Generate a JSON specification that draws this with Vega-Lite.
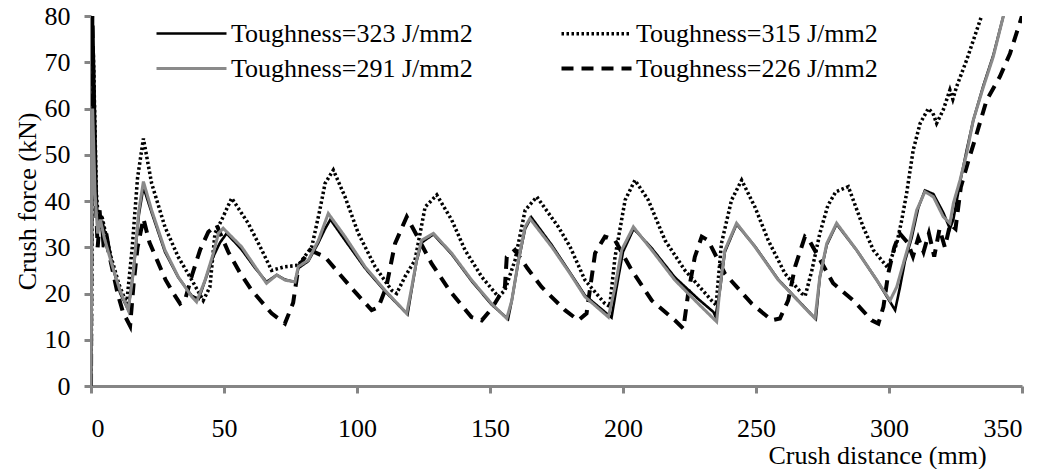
{
  "$schema": "https://vega.github.io/schema/vega-lite/v6.json",
  "width": 931,
  "height": 370,
  "autosize": {"type": "none"},
  "padding": {"left": 91, "top": 16, "right": 25, "bottom": 83},
  "background": "#ffffff",
  "config": {
    "view": {"stroke": null},
    "axis": {"domainColor": "#858585", "domainWidth": 3, "tickColor": "#858585", "tickWidth": 3, "tickSize": 7, "labelFont": "Liberation Serif", "labelFontSize": 26, "labelColor": "#000000", "titleFont": "Liberation Serif", "titleFontSize": 26, "titleFontWeight": "normal", "titleColor": "#000000", "grid": false},
    "legend": {"orient": "none", "legendX": 81, "legendY": -2, "columns": 2, "symbolType": "M-2,0H2", "symbolSize": 1225, "symbolStrokeWidth": 3.5, "labelFont": "Liberation Serif", "labelFontSize": 26, "labelLimit": 500, "labelColor": "#000000", "labelOffset": 20, "columnPadding": 80, "rowPadding": 2, "padding": 0, "title": null}
  },
  "data": {"values": [
    {"s":"Toughness=315 J/mm2","x":0,"y":0},{"s":"Toughness=315 J/mm2","x":0.9,"y":72},{"s":"Toughness=315 J/mm2","x":2,"y":42},{"s":"Toughness=315 J/mm2","x":3,"y":34},{"s":"Toughness=315 J/mm2","x":4,"y":37},{"s":"Toughness=315 J/mm2","x":5.5,"y":33},{"s":"Toughness=315 J/mm2","x":7.5,"y":28},{"s":"Toughness=315 J/mm2","x":10.5,"y":22},{"s":"Toughness=315 J/mm2","x":13.4,"y":17.8},{"s":"Toughness=315 J/mm2","x":15.5,"y":30},{"s":"Toughness=315 J/mm2","x":17.5,"y":45},{"s":"Toughness=315 J/mm2","x":19.7,"y":53.5},{"s":"Toughness=315 J/mm2","x":22.8,"y":43.8},{"s":"Toughness=315 J/mm2","x":27.8,"y":34.4},{"s":"Toughness=315 J/mm2","x":32.8,"y":27.9},{"s":"Toughness=315 J/mm2","x":37.9,"y":22.9},{"s":"Toughness=315 J/mm2","x":42.2,"y":18.5},{"s":"Toughness=315 J/mm2","x":44.7,"y":21.4},{"s":"Toughness=315 J/mm2","x":46.6,"y":33},{"s":"Toughness=315 J/mm2","x":49.1,"y":35.9},{"s":"Toughness=315 J/mm2","x":52.9,"y":40.6},{"s":"Toughness=315 J/mm2","x":59.1,"y":35.2},{"s":"Toughness=315 J/mm2","x":64.2,"y":29.4},{"s":"Toughness=315 J/mm2","x":67.9,"y":25},{"s":"Toughness=315 J/mm2","x":72.9,"y":25.8},{"s":"Toughness=315 J/mm2","x":77.9,"y":26.1},{"s":"Toughness=315 J/mm2","x":83,"y":30.1},{"s":"Toughness=315 J/mm2","x":86,"y":38},{"s":"Toughness=315 J/mm2","x":88,"y":43.8},{"s":"Toughness=315 J/mm2","x":91.1,"y":46.7},{"s":"Toughness=315 J/mm2","x":95.5,"y":40.9},{"s":"Toughness=315 J/mm2","x":100.5,"y":33},{"s":"Toughness=315 J/mm2","x":106.8,"y":25.8},{"s":"Toughness=315 J/mm2","x":113,"y":20.7},{"s":"Toughness=315 J/mm2","x":114.9,"y":20},{"s":"Toughness=315 J/mm2","x":118,"y":23.6},{"s":"Toughness=315 J/mm2","x":121.8,"y":27.2},{"s":"Toughness=315 J/mm2","x":125.6,"y":38.7},{"s":"Toughness=315 J/mm2","x":130,"y":41.3},{"s":"Toughness=315 J/mm2","x":135.6,"y":35.9},{"s":"Toughness=315 J/mm2","x":140.6,"y":29.4},{"s":"Toughness=315 J/mm2","x":146.9,"y":23.6},{"s":"Toughness=315 J/mm2","x":153.1,"y":19.3},{"s":"Toughness=315 J/mm2","x":155.6,"y":20.7},{"s":"Toughness=315 J/mm2","x":159.4,"y":27.2},{"s":"Toughness=315 J/mm2","x":163.2,"y":38},{"s":"Toughness=315 J/mm2","x":167.6,"y":40.9},{"s":"Toughness=315 J/mm2","x":175.7,"y":34.4},{"s":"Toughness=315 J/mm2","x":180.1,"y":30.1},{"s":"Toughness=315 J/mm2","x":185.7,"y":22.9},{"s":"Toughness=315 J/mm2","x":193.2,"y":17.8},{"s":"Toughness=315 J/mm2","x":195,"y":17.2},{"s":"Toughness=315 J/mm2","x":197,"y":27.9},{"s":"Toughness=315 J/mm2","x":200.8,"y":40.2},{"s":"Toughness=315 J/mm2","x":204.5,"y":44.5},{"s":"Toughness=315 J/mm2","x":209.5,"y":40.2},{"s":"Toughness=315 J/mm2","x":215.8,"y":31.5},{"s":"Toughness=315 J/mm2","x":223.3,"y":25},{"s":"Toughness=315 J/mm2","x":233.3,"y":18.5},{"s":"Toughness=315 J/mm2","x":235,"y":17.5},{"s":"Toughness=315 J/mm2","x":237,"y":30.8},{"s":"Toughness=315 J/mm2","x":240.8,"y":40.2},{"s":"Toughness=315 J/mm2","x":244.6,"y":44.5},{"s":"Toughness=315 J/mm2","x":249.6,"y":38.7},{"s":"Toughness=315 J/mm2","x":254.6,"y":31.5},{"s":"Toughness=315 J/mm2","x":260.9,"y":24.3},{"s":"Toughness=315 J/mm2","x":267.2,"y":20},{"s":"Toughness=315 J/mm2","x":268.5,"y":19.5},{"s":"Toughness=315 J/mm2","x":271,"y":25},{"s":"Toughness=315 J/mm2","x":274,"y":33},{"s":"Toughness=315 J/mm2","x":277,"y":39},{"s":"Toughness=315 J/mm2","x":280,"y":42},{"s":"Toughness=315 J/mm2","x":284.7,"y":43.1},{"s":"Toughness=315 J/mm2","x":290.3,"y":34.4},{"s":"Toughness=315 J/mm2","x":294.1,"y":29.4},{"s":"Toughness=315 J/mm2","x":299.5,"y":25.6},{"s":"Toughness=315 J/mm2","x":302.9,"y":30.8},{"s":"Toughness=315 J/mm2","x":304.8,"y":35.9},{"s":"Toughness=315 J/mm2","x":306.6,"y":41.6},{"s":"Toughness=315 J/mm2","x":309.1,"y":51},{"s":"Toughness=315 J/mm2","x":311.7,"y":56.8},{"s":"Toughness=315 J/mm2","x":314.8,"y":60},{"s":"Toughness=315 J/mm2","x":316.5,"y":59},{"s":"Toughness=315 J/mm2","x":317.9,"y":56.8},{"s":"Toughness=315 J/mm2","x":320.4,"y":59.7},{"s":"Toughness=315 J/mm2","x":322.9,"y":64},{"s":"Toughness=315 J/mm2","x":324,"y":62},{"s":"Toughness=315 J/mm2","x":325.4,"y":64.7},{"s":"Toughness=315 J/mm2","x":329.2,"y":70.5},{"s":"Toughness=315 J/mm2","x":334.8,"y":80},

    {"s":"Toughness=226 J/mm2","x":0,"y":0},{"s":"Toughness=226 J/mm2","x":0.5,"y":80},{"s":"Toughness=226 J/mm2","x":1.5,"y":45},{"s":"Toughness=226 J/mm2","x":2.5,"y":30},{"s":"Toughness=226 J/mm2","x":3.5,"y":37},{"s":"Toughness=226 J/mm2","x":5,"y":33},{"s":"Toughness=226 J/mm2","x":7,"y":28},{"s":"Toughness=226 J/mm2","x":10,"y":20},{"s":"Toughness=226 J/mm2","x":12,"y":16},{"s":"Toughness=226 J/mm2","x":14.7,"y":13},{"s":"Toughness=226 J/mm2","x":16,"y":22},{"s":"Toughness=226 J/mm2","x":17.5,"y":30},{"s":"Toughness=226 J/mm2","x":19.7,"y":36.2},{"s":"Toughness=226 J/mm2","x":22,"y":31},{"s":"Toughness=226 J/mm2","x":25,"y":27},{"s":"Toughness=226 J/mm2","x":28,"y":23},{"s":"Toughness=226 J/mm2","x":31,"y":20},{"s":"Toughness=226 J/mm2","x":33.5,"y":17.8},{"s":"Toughness=226 J/mm2","x":35.3,"y":18.5},{"s":"Toughness=226 J/mm2","x":38,"y":24},{"s":"Toughness=226 J/mm2","x":41,"y":29.4},{"s":"Toughness=226 J/mm2","x":44.1,"y":33.3},{"s":"Toughness=226 J/mm2","x":47.2,"y":34.8},{"s":"Toughness=226 J/mm2","x":51.6,"y":29},{"s":"Toughness=226 J/mm2","x":56,"y":24.5},{"s":"Toughness=226 J/mm2","x":60.4,"y":20.7},{"s":"Toughness=226 J/mm2","x":67.9,"y":15.7},{"s":"Toughness=226 J/mm2","x":72.9,"y":13.5},{"s":"Toughness=226 J/mm2","x":76,"y":18},{"s":"Toughness=226 J/mm2","x":78,"y":25.8},{"s":"Toughness=226 J/mm2","x":82.3,"y":29.4},{"s":"Toughness=226 J/mm2","x":88,"y":27.9},{"s":"Toughness=226 J/mm2","x":93,"y":24.5},{"s":"Toughness=226 J/mm2","x":99,"y":20.5},{"s":"Toughness=226 J/mm2","x":105.5,"y":16.4},{"s":"Toughness=226 J/mm2","x":108,"y":17},{"s":"Toughness=226 J/mm2","x":111,"y":21.4},{"s":"Toughness=226 J/mm2","x":114.3,"y":30.8},{"s":"Toughness=226 J/mm2","x":118.7,"y":36.6},{"s":"Toughness=226 J/mm2","x":123,"y":32},{"s":"Toughness=226 J/mm2","x":128,"y":26.5},{"s":"Toughness=226 J/mm2","x":135,"y":20.5},{"s":"Toughness=226 J/mm2","x":143,"y":14.9},{"s":"Toughness=226 J/mm2","x":146.9,"y":14.2},{"s":"Toughness=226 J/mm2","x":150.6,"y":16.7},{"s":"Toughness=226 J/mm2","x":155.6,"y":21.4},{"s":"Toughness=226 J/mm2","x":156.3,"y":27.9},{"s":"Toughness=226 J/mm2","x":159.4,"y":29.4},{"s":"Toughness=226 J/mm2","x":164,"y":25.5},{"s":"Toughness=226 J/mm2","x":169.4,"y":21.4},{"s":"Toughness=226 J/mm2","x":178.2,"y":16.4},{"s":"Toughness=226 J/mm2","x":183.2,"y":14.2},{"s":"Toughness=226 J/mm2","x":186.3,"y":15.7},{"s":"Toughness=226 J/mm2","x":189.5,"y":28.7},{"s":"Toughness=226 J/mm2","x":193.2,"y":32.3},{"s":"Toughness=226 J/mm2","x":197,"y":31.5},{"s":"Toughness=226 J/mm2","x":203.3,"y":25},{"s":"Toughness=226 J/mm2","x":210.8,"y":18.5},{"s":"Toughness=226 J/mm2","x":219.5,"y":14.2},{"s":"Toughness=226 J/mm2","x":222.7,"y":12.4},{"s":"Toughness=226 J/mm2","x":224.5,"y":20},{"s":"Toughness=226 J/mm2","x":227,"y":27.9},{"s":"Toughness=226 J/mm2","x":229.6,"y":32.3},{"s":"Toughness=226 J/mm2","x":232,"y":31.5},{"s":"Toughness=226 J/mm2","x":238.3,"y":24.3},{"s":"Toughness=226 J/mm2","x":248.4,"y":17.8},{"s":"Toughness=226 J/mm2","x":255.9,"y":14.2},{"s":"Toughness=226 J/mm2","x":259,"y":14.6},{"s":"Toughness=226 J/mm2","x":262.1,"y":18.5},{"s":"Toughness=226 J/mm2","x":264.7,"y":25.8},{"s":"Toughness=226 J/mm2","x":268.4,"y":32.3},{"s":"Toughness=226 J/mm2","x":270,"y":31.5},{"s":"Toughness=226 J/mm2","x":279,"y":22.2},{"s":"Toughness=226 J/mm2","x":286.6,"y":18.5},{"s":"Toughness=226 J/mm2","x":293.5,"y":14.2},{"s":"Toughness=226 J/mm2","x":296,"y":13.5},{"s":"Toughness=226 J/mm2","x":297.9,"y":17.1},{"s":"Toughness=226 J/mm2","x":299.7,"y":24.3},{"s":"Toughness=226 J/mm2","x":302,"y":30},{"s":"Toughness=226 J/mm2","x":304,"y":33},{"s":"Toughness=226 J/mm2","x":307,"y":31},{"s":"Toughness=226 J/mm2","x":309,"y":28},{"s":"Toughness=226 J/mm2","x":311,"y":32},{"s":"Toughness=226 J/mm2","x":313,"y":29},{"s":"Toughness=226 J/mm2","x":315,"y":33},{"s":"Toughness=226 J/mm2","x":317,"y":28},{"s":"Toughness=226 J/mm2","x":319,"y":34},{"s":"Toughness=226 J/mm2","x":321,"y":30},{"s":"Toughness=226 J/mm2","x":323,"y":35},{"s":"Toughness=226 J/mm2","x":325,"y":34},{"s":"Toughness=226 J/mm2","x":327,"y":43},{"s":"Toughness=226 J/mm2","x":330,"y":49},{"s":"Toughness=226 J/mm2","x":333,"y":54.6},{"s":"Toughness=226 J/mm2","x":336.7,"y":61.8},{"s":"Toughness=226 J/mm2","x":341.7,"y":66.9},{"s":"Toughness=226 J/mm2","x":345.5,"y":71.9},{"s":"Toughness=226 J/mm2","x":350,"y":80},

    {"s":"Toughness=323 J/mm2","x":0,"y":0},{"s":"Toughness=323 J/mm2","x":0.8,"y":78},{"s":"Toughness=323 J/mm2","x":2,"y":45},{"s":"Toughness=323 J/mm2","x":2.5,"y":33},{"s":"Toughness=323 J/mm2","x":3.5,"y":38},{"s":"Toughness=323 J/mm2","x":4.5,"y":30},{"s":"Toughness=323 J/mm2","x":6,"y":33},{"s":"Toughness=323 J/mm2","x":8,"y":26},{"s":"Toughness=323 J/mm2","x":11,"y":20},{"s":"Toughness=323 J/mm2","x":14,"y":16.5},{"s":"Toughness=323 J/mm2","x":16,"y":25},{"s":"Toughness=323 J/mm2","x":18,"y":37},{"s":"Toughness=323 J/mm2","x":19.7,"y":43},{"s":"Toughness=323 J/mm2","x":22.8,"y":37.5},{"s":"Toughness=323 J/mm2","x":27.8,"y":29},{"s":"Toughness=323 J/mm2","x":32.8,"y":23.5},{"s":"Toughness=323 J/mm2","x":37.9,"y":19.5},{"s":"Toughness=323 J/mm2","x":40.5,"y":18.8},{"s":"Toughness=323 J/mm2","x":43,"y":23},{"s":"Toughness=323 J/mm2","x":46,"y":28},{"s":"Toughness=323 J/mm2","x":48.5,"y":31},{"s":"Toughness=323 J/mm2","x":51,"y":33},{"s":"Toughness=323 J/mm2","x":56.6,"y":29.5},{"s":"Toughness=323 J/mm2","x":61.7,"y":25.5},{"s":"Toughness=323 J/mm2","x":66,"y":22.5},{"s":"Toughness=323 J/mm2","x":69.8,"y":24},{"s":"Toughness=323 J/mm2","x":72.9,"y":23},{"s":"Toughness=323 J/mm2","x":76.7,"y":22.5},{"s":"Toughness=323 J/mm2","x":78,"y":25.5},{"s":"Toughness=323 J/mm2","x":81.7,"y":27},{"s":"Toughness=323 J/mm2","x":85.5,"y":31},{"s":"Toughness=323 J/mm2","x":88,"y":34},{"s":"Toughness=323 J/mm2","x":90,"y":36},{"s":"Toughness=323 J/mm2","x":95.5,"y":31.5},{"s":"Toughness=323 J/mm2","x":103,"y":25.5},{"s":"Toughness=323 J/mm2","x":110.5,"y":20.5},{"s":"Toughness=323 J/mm2","x":119,"y":15.5},{"s":"Toughness=323 J/mm2","x":120.6,"y":21},{"s":"Toughness=323 J/mm2","x":122.4,"y":27},{"s":"Toughness=323 J/mm2","x":124.3,"y":31},{"s":"Toughness=323 J/mm2","x":128.7,"y":32.8},{"s":"Toughness=323 J/mm2","x":135.6,"y":28.5},{"s":"Toughness=323 J/mm2","x":143.1,"y":22.7},{"s":"Toughness=323 J/mm2","x":150.6,"y":17.6},{"s":"Toughness=323 J/mm2","x":156.8,"y":14.5},{"s":"Toughness=323 J/mm2","x":158.2,"y":18.5},{"s":"Toughness=323 J/mm2","x":160.7,"y":27},{"s":"Toughness=323 J/mm2","x":163.2,"y":34},{"s":"Toughness=323 J/mm2","x":165.5,"y":36.5},{"s":"Toughness=323 J/mm2","x":173.2,"y":30.5},{"s":"Toughness=323 J/mm2","x":180.1,"y":24.5},{"s":"Toughness=323 J/mm2","x":185.7,"y":19.6},{"s":"Toughness=323 J/mm2","x":195.7,"y":14.8},{"s":"Toughness=323 J/mm2","x":197.5,"y":21},{"s":"Toughness=323 J/mm2","x":200,"y":29},{"s":"Toughness=323 J/mm2","x":204,"y":34},{"s":"Toughness=323 J/mm2","x":210.8,"y":29.8},{"s":"Toughness=323 J/mm2","x":219.5,"y":23.5},{"s":"Toughness=323 J/mm2","x":228.3,"y":18.8},{"s":"Toughness=323 J/mm2","x":234,"y":16},{"s":"Toughness=323 J/mm2","x":234.8,"y":15},{"s":"Toughness=323 J/mm2","x":236.5,"y":21},{"s":"Toughness=323 J/mm2","x":238.3,"y":29},{"s":"Toughness=323 J/mm2","x":242.7,"y":35},{"s":"Toughness=323 J/mm2","x":249.6,"y":30.2},{"s":"Toughness=323 J/mm2","x":258.4,"y":23},{"s":"Toughness=323 J/mm2","x":270.3,"y":15.8},{"s":"Toughness=323 J/mm2","x":272.5,"y":14.5},{"s":"Toughness=323 J/mm2","x":274,"y":23.5},{"s":"Toughness=323 J/mm2","x":276.6,"y":30.5},{"s":"Toughness=323 J/mm2","x":280.3,"y":35},{"s":"Toughness=323 J/mm2","x":287.8,"y":29.4},{"s":"Toughness=323 J/mm2","x":295.4,"y":22.9},{"s":"Toughness=323 J/mm2","x":302.3,"y":16.4},{"s":"Toughness=323 J/mm2","x":304,"y":21},{"s":"Toughness=323 J/mm2","x":306,"y":27},{"s":"Toughness=323 J/mm2","x":308.5,"y":32},{"s":"Toughness=323 J/mm2","x":311,"y":38.5},{"s":"Toughness=323 J/mm2","x":313.5,"y":42.3},{"s":"Toughness=323 J/mm2","x":316.7,"y":41.5},{"s":"Toughness=323 J/mm2","x":320.4,"y":37.5},{"s":"Toughness=323 J/mm2","x":322.9,"y":34},{"s":"Toughness=323 J/mm2","x":324.2,"y":36},{"s":"Toughness=323 J/mm2","x":326.7,"y":44},{"s":"Toughness=323 J/mm2","x":329.2,"y":51},{"s":"Toughness=323 J/mm2","x":331.7,"y":57.5},{"s":"Toughness=323 J/mm2","x":335.5,"y":65},{"s":"Toughness=323 J/mm2","x":339.2,"y":71.5},{"s":"Toughness=323 J/mm2","x":343,"y":80},

    {"s":"Toughness=291 J/mm2","x":0,"y":0},{"s":"Toughness=291 J/mm2","x":0.6,"y":60},{"s":"Toughness=291 J/mm2","x":1.5,"y":42},{"s":"Toughness=291 J/mm2","x":2.5,"y":33},{"s":"Toughness=291 J/mm2","x":3.5,"y":36},{"s":"Toughness=291 J/mm2","x":5,"y":32},{"s":"Toughness=291 J/mm2","x":8,"y":26},{"s":"Toughness=291 J/mm2","x":11,"y":20.5},{"s":"Toughness=291 J/mm2","x":14,"y":16.4},{"s":"Toughness=291 J/mm2","x":16,"y":25},{"s":"Toughness=291 J/mm2","x":18,"y":38},{"s":"Toughness=291 J/mm2","x":19.7,"y":44.2},{"s":"Toughness=291 J/mm2","x":22.8,"y":38},{"s":"Toughness=291 J/mm2","x":27.8,"y":29.4},{"s":"Toughness=291 J/mm2","x":32.8,"y":23.6},{"s":"Toughness=291 J/mm2","x":37.9,"y":19.3},{"s":"Toughness=291 J/mm2","x":39.7,"y":18.2},{"s":"Toughness=291 J/mm2","x":42.9,"y":22.9},{"s":"Toughness=291 J/mm2","x":46,"y":28.7},{"s":"Toughness=291 J/mm2","x":47.9,"y":33},{"s":"Toughness=291 J/mm2","x":49.7,"y":34.1},{"s":"Toughness=291 J/mm2","x":56.6,"y":30.1},{"s":"Toughness=291 J/mm2","x":61.7,"y":25.8},{"s":"Toughness=291 J/mm2","x":66,"y":22.2},{"s":"Toughness=291 J/mm2","x":69.8,"y":24},{"s":"Toughness=291 J/mm2","x":72.9,"y":22.9},{"s":"Toughness=291 J/mm2","x":76.7,"y":22.5},{"s":"Toughness=291 J/mm2","x":77.9,"y":25.8},{"s":"Toughness=291 J/mm2","x":81.7,"y":27.2},{"s":"Toughness=291 J/mm2","x":85.5,"y":31.5},{"s":"Toughness=291 J/mm2","x":89.2,"y":37.3},{"s":"Toughness=291 J/mm2","x":95.5,"y":32.3},{"s":"Toughness=291 J/mm2","x":103,"y":25.8},{"s":"Toughness=291 J/mm2","x":110.5,"y":20.7},{"s":"Toughness=291 J/mm2","x":118.7,"y":15.7},{"s":"Toughness=291 J/mm2","x":120.6,"y":21.4},{"s":"Toughness=291 J/mm2","x":122.4,"y":27.2},{"s":"Toughness=291 J/mm2","x":124.3,"y":31.5},{"s":"Toughness=291 J/mm2","x":128.7,"y":33},{"s":"Toughness=291 J/mm2","x":135.6,"y":28.7},{"s":"Toughness=291 J/mm2","x":143.1,"y":22.9},{"s":"Toughness=291 J/mm2","x":150.6,"y":17.8},{"s":"Toughness=291 J/mm2","x":156.3,"y":14.6},{"s":"Toughness=291 J/mm2","x":158.2,"y":18.5},{"s":"Toughness=291 J/mm2","x":160.7,"y":27.2},{"s":"Toughness=291 J/mm2","x":163.2,"y":34.4},{"s":"Toughness=291 J/mm2","x":165,"y":36.2},{"s":"Toughness=291 J/mm2","x":173.2,"y":30.1},{"s":"Toughness=291 J/mm2","x":180.1,"y":24.3},{"s":"Toughness=291 J/mm2","x":185.7,"y":19.3},{"s":"Toughness=291 J/mm2","x":194.5,"y":14.9},{"s":"Toughness=291 J/mm2","x":197,"y":21.4},{"s":"Toughness=291 J/mm2","x":199.5,"y":29.4},{"s":"Toughness=291 J/mm2","x":203.9,"y":34.4},{"s":"Toughness=291 J/mm2","x":210.8,"y":29.4},{"s":"Toughness=291 J/mm2","x":219.5,"y":22.9},{"s":"Toughness=291 J/mm2","x":228.3,"y":17.8},{"s":"Toughness=291 J/mm2","x":235.2,"y":13.9},{"s":"Toughness=291 J/mm2","x":236.5,"y":21.4},{"s":"Toughness=291 J/mm2","x":238.3,"y":29.4},{"s":"Toughness=291 J/mm2","x":242.7,"y":35.2},{"s":"Toughness=291 J/mm2","x":249.6,"y":30.1},{"s":"Toughness=291 J/mm2","x":258.4,"y":22.9},{"s":"Toughness=291 J/mm2","x":270.3,"y":15.7},{"s":"Toughness=291 J/mm2","x":272.2,"y":14.6},{"s":"Toughness=291 J/mm2","x":274,"y":23.6},{"s":"Toughness=291 J/mm2","x":276.6,"y":30.8},{"s":"Toughness=291 J/mm2","x":280.3,"y":35.2},{"s":"Toughness=291 J/mm2","x":287.8,"y":29.4},{"s":"Toughness=291 J/mm2","x":295.4,"y":22.9},{"s":"Toughness=291 J/mm2","x":300.4,"y":18.5},{"s":"Toughness=291 J/mm2","x":302.9,"y":21.4},{"s":"Toughness=291 J/mm2","x":305.4,"y":26.5},{"s":"Toughness=291 J/mm2","x":307.9,"y":31.5},{"s":"Toughness=291 J/mm2","x":310.4,"y":38},{"s":"Toughness=291 J/mm2","x":313.5,"y":42},{"s":"Toughness=291 J/mm2","x":316.7,"y":40.9},{"s":"Toughness=291 J/mm2","x":320.4,"y":36.6},{"s":"Toughness=291 J/mm2","x":322.9,"y":35.2},{"s":"Toughness=291 J/mm2","x":324.2,"y":39.5},{"s":"Toughness=291 J/mm2","x":326.7,"y":44.5},{"s":"Toughness=291 J/mm2","x":329.2,"y":50.3},{"s":"Toughness=291 J/mm2","x":331.7,"y":57.5},{"s":"Toughness=291 J/mm2","x":335.5,"y":64.7},{"s":"Toughness=291 J/mm2","x":339.2,"y":71.2},{"s":"Toughness=291 J/mm2","x":343,"y":80}
  ]},
  "mark": {"type": "line", "clip": true, "interpolate": "linear"},
  "encoding": {
    "x": {"field": "x", "type": "quantitative", "scale": {"domain": [0, 350], "nice": false, "zero": false},
      "axis": {"values": [0, 50, 100, 150, 200, 250, 300, 350], "title": "Crush distance (mm)", "labelPadding": 22, "titleX": 786, "titleY": 56, "titleAnchor": null, "titleAlign": "center", "titleBaseline": "top"}},
    "y": {"field": "y", "type": "quantitative", "scale": {"domain": [0, 80], "nice": false},
      "axis": {"values": [0, 10, 20, 30, 40, 50, 60, 70, 80], "title": "Crush force (kN)", "labelPadding": 14, "titlePadding": 4}},
    "color": {"field": "s", "type": "nominal",
      "scale": {"domain": ["Toughness=323 J/mm2", "Toughness=291 J/mm2", "Toughness=315 J/mm2", "Toughness=226 J/mm2"], "range": ["#000000", "#8a8a8a", "#000000", "#000000"]},
      "legend": {"title": null}},
    "strokeDash": {"field": "s", "type": "nominal",
      "scale": {"domain": ["Toughness=323 J/mm2", "Toughness=291 J/mm2", "Toughness=315 J/mm2", "Toughness=226 J/mm2"], "range": [[1, 0], [1, 0], [2.5, 2.5], [12, 8]]},
      "legend": {"title": null}},
    "strokeWidth": {"field": "s", "type": "ordinal",
      "scale": {"domain": ["Toughness=323 J/mm2", "Toughness=291 J/mm2", "Toughness=315 J/mm2", "Toughness=226 J/mm2"], "range": [2.6, 4, 3, 3.2]},
      "legend": null},
    "order": {"field": "x", "type": "quantitative"}
  }
}
